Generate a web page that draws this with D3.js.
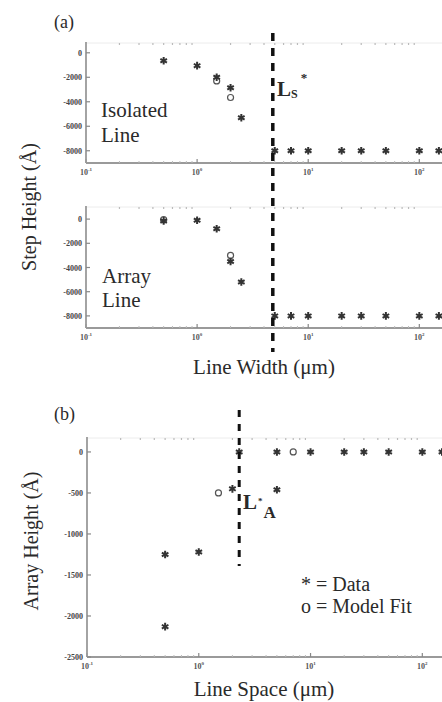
<!DOCTYPE html>
<html>
<head>
<meta charset="utf-8">
<script src="https://cdn.jsdelivr.net/npm/d3@7"></script>
<style>
  body { margin: 0; background: #fff; }
  text { font-family: "Liberation Serif", "Times New Roman", serif; fill: #2a2a2a; }
</style>
</head>
<body>
<div id="chart"></div>
<script>
// --- data ---
var widthX = [0.5, 1, 1.5, 2, 2.5, 5, 7, 10, 20, 30, 50, 100, 150];
var isoData = [-650, -1050, -2000, -2850, -5300, -8000, -8000, -8000, -8000, -8000, -8000, -8000, -8000];
var isoFitX = [1.5, 2];
var isoFit = [-2300, -3650];
var arrData = [-150, -100, -800, -3500, -5200, -8000, -8000, -8000, -8000, -8000, -8000, -8000, -8000];
var arrFitX = [0.5, 2];
var arrFit = [-50, -3000];
var spaceDataX = [0.5, 0.5, 1, 2, 2.3, 5, 5, 10, 20, 30, 50, 100, 150];
var spaceData = [-1250, -2130, -1220, -450, 0, 0, -460, 0, 0, 0, 0, 0, 0];
var spaceFitX = [1.5, 7];
var spaceFit = [-500, 0];
var stepTicks = [0, -2000, -4000, -6000, -8000];
var spaceTicks = [0, -500, -1000, -1500, -2000, -2500];
var decades = [-1, 0, 1, 2];
var LsX = 4.8, LaX = 2.3;

var svg = d3.select("#chart")
  .append("svg")
  .attr("width", 442)
  .attr("height", 702);

var x = d3.scaleLog().domain([0.1, 160]).range([86, 442]);
var xb = d3.scaleLog().domain([0.1, 150]).range([87, 442]);

var yIso = d3.scaleLinear().domain([-9000, 800]).range([163, 43]);
var yArr = d3.scaleLinear().domain([-9000, 1000]).range([328, 207]);
var yB = d3.scaleLinear().domain([-2500, 170]).range([657, 438]);

var minors = [];
decades.forEach(function (d) {
  for (var k = 2; k <= 9; k++) minors.push(k * Math.pow(10, d));
});

function panel(xs, ys, yticks) {
  var g = svg.append("g");
  var x0 = xs.range()[0], y0 = ys.range()[0], y1 = ys.range()[1];
  var xmax = 442;
  // faint top frame with minor ticks
  g.append("line").attr("x1", x0).attr("x2", xmax).attr("y1", y1).attr("y2", y1)
    .attr("stroke", "#ececec").attr("stroke-width", 1);
  g.selectAll(".tm").data(minors.filter(function (v) { return xs(v) < xmax; }))
    .enter().append("line")
    .attr("x1", function (v) { return xs(v); }).attr("x2", function (v) { return xs(v); })
    .attr("y1", y1).attr("y2", y1 + 2)
    .attr("stroke", "#bbb").attr("stroke-width", 1.2);
  // bottom axis
  g.append("line").attr("x1", x0).attr("x2", xmax).attr("y1", y0).attr("y2", y0)
    .attr("stroke", "#9a9a9a").attr("stroke-width", 1.8);
  g.selectAll(".bm").data(minors.filter(function (v) { return xs(v) < xmax; }))
    .enter().append("line")
    .attr("x1", function (v) { return xs(v); }).attr("x2", function (v) { return xs(v); })
    .attr("y1", y0).attr("y2", y0 - 2)
    .attr("stroke", "#bbb");
  g.selectAll(".bM").data(decades).enter().append("line")
    .attr("x1", function (d) { return xs(Math.pow(10, d)); })
    .attr("x2", function (d) { return xs(Math.pow(10, d)); })
    .attr("y1", y0).attr("y2", y0 - 4)
    .attr("stroke", "#888").attr("stroke-width", 1.2);
  var xl = g.selectAll(".xl").data(decades).enter().append("text")
    .attr("x", function (d) { return xs(Math.pow(10, d)); })
    .attr("y", y0 + 12)
    .attr("text-anchor", "middle")
    .style("font-size", "8px").style("font-weight", "bold").style("fill", "#555");
  xl.append("tspan").text("10");
  xl.append("tspan").attr("dy", -4).style("font-size", "5px").text(function (d) { return d; });
  // y axis
  g.append("line").attr("x1", x0).attr("x2", x0).attr("y1", y0).attr("y2", y1 - 1)
    .attr("stroke", "#9a9a9a").attr("stroke-width", 1.8);
  g.selectAll(".yt").data(yticks).enter().append("line")
    .attr("x1", x0).attr("x2", x0 + 4)
    .attr("y1", function (v) { return ys(v); }).attr("y2", function (v) { return ys(v); })
    .attr("stroke", "#888").attr("stroke-width", 1.2);
  g.selectAll(".yl").data(yticks).enter().append("text")
    .attr("x", x0 - 4).attr("y", function (v) { return ys(v) + 3; })
    .attr("text-anchor", "end")
    .style("font-size", "8px").style("font-weight", "bold").style("fill", "#444")
    .text(function (v) { return v; });
  return g;
}

var star = d3.symbol().type(d3.symbolAsterisk).size(40);

function dataPts(g, xs, ys, xv, yv) {
  g.selectAll(null).data(xv).enter().append("path")
    .attr("d", star)
    .attr("transform", function (d, i) { return "translate(" + xs(d) + "," + ys(yv[i]) + ")"; })
    .attr("fill", "none").attr("stroke", "#333").attr("stroke-width", 2);
}
function fitPts(g, xs, ys, xv, yv) {
  g.selectAll(null).data(xv).enter().append("circle")
    .attr("cx", function (d) { return xs(d); })
    .attr("cy", function (d, i) { return ys(yv[i]); })
    .attr("r", 3)
    .attr("fill", "#fff").attr("stroke", "#555").attr("stroke-width", 1.2);
}

var ga = panel(x, yIso, stepTicks);
fitPts(ga, x, yIso, isoFitX, isoFit);
dataPts(ga, x, yIso, widthX, isoData);

var gb = panel(x, yArr, stepTicks);
fitPts(gb, x, yArr, arrFitX, arrFit);
dataPts(gb, x, yArr, widthX, arrData);

var gc = panel(xb, yB, spaceTicks);
fitPts(gc, xb, yB, spaceFitX, spaceFit);
dataPts(gc, xb, yB, spaceDataX, spaceData);

// dashed critical lines
svg.append("line")
  .attr("x1", x(LsX)).attr("x2", x(LsX)).attr("y1", 33).attr("y2", 352)
  .attr("stroke", "#111").attr("stroke-width", 3.5).attr("stroke-dasharray", "8,7");
svg.append("line")
  .attr("x1", xb(LaX)).attr("x2", xb(LaX)).attr("y1", 410).attr("y2", 566)
  .attr("stroke", "#111").attr("stroke-width", 3).attr("stroke-dasharray", "7,7");

// labels
function txt(t, xx, yy, size, opts) {
  var e = svg.append("text").attr("x", xx).attr("y", yy).style("font-size", size + "px").text(t);
  if (opts && opts.bold) e.style("font-weight", "bold");
  if (opts && opts.anchor) e.attr("text-anchor", opts.anchor);
  return e;
}
txt("(a)", 54, 28, 18);
txt("(b)", 54, 420, 18);
txt("Isolated", 101, 117, 21);
txt("Line", 101, 142, 21);
txt("Array", 102, 283, 21);
txt("Line", 102, 307, 21);
txt("Line Width (\u03bcm)", 264, 374, 21, { anchor: "middle" });
txt("Line Space (\u03bcm)", 264, 696, 21, { anchor: "middle" });

// critical-dimension labels, one text each
var ls = svg.append("text").attr("x", 277).attr("y", 96)
  .style("font-size", "21px").style("font-weight", "bold");
ls.append("tspan").text("L");
ls.append("tspan").attr("dy", 2).style("font-size", "12px").text("S");
ls.append("tspan").attr("dx", 3).attr("dy", -16).style("font-size", "13px").text("*");

var la = svg.append("text").attr("x", 243).attr("y", 509)
  .style("font-size", "21px").style("font-weight", "bold");
la.append("tspan").text("L");
la.append("tspan").attr("dx", 1).attr("dy", -5).style("font-size", "9px").text("*");
la.append("tspan").attr("dx", 1).attr("dy", 14).style("font-size", "17px").text("A");

txt("* = Data", 301, 591, 20);
txt("o = Model Fit", 301, 613, 20);

svg.append("text")
  .attr("transform", "translate(36,207) rotate(-90)")
  .attr("text-anchor", "middle").style("font-size", "20px")
  .text("Step Height (\u00c5)");
svg.append("text")
  .attr("transform", "translate(38,541) rotate(-90)")
  .attr("text-anchor", "middle").style("font-size", "20px")
  .text("Array Height (\u00c5)");
</script>
</body>
</html>
